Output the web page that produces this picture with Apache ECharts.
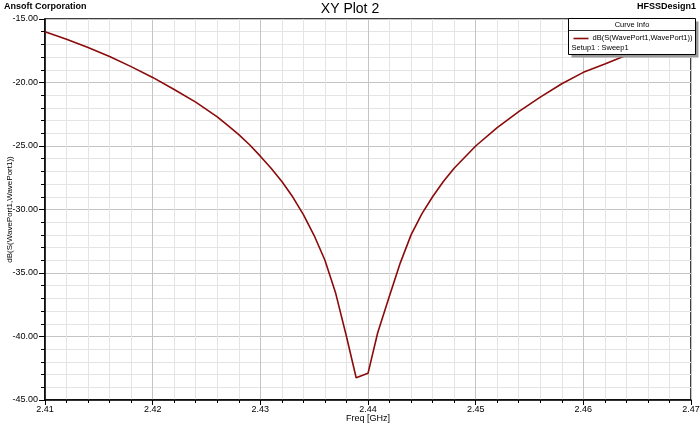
<!DOCTYPE html>
<html><head><meta charset="utf-8">
<script src="https://cdn.jsdelivr.net/npm/echarts@6/dist/echarts.min.js"></script>
<style>html,body{margin:0;padding:0;background:#fff}#c{width:700px;height:425px}</style>
</head><body><div id="c"></div>
<script>
var freqs = [2.410,2.412,2.414,2.416,2.418,2.420,2.422,2.424,2.426,2.427,2.428,2.429,2.430,2.431,2.432,2.433,2.434,2.435,2.436,2.437,2.438,2.4389,2.440,2.4409,2.442,2.443,2.444,2.445,2.446,2.447,2.448,2.450,2.452,2.454,2.456,2.458,2.460,2.462,2.464,2.466,2.468,2.470];
var dbValues = [-16.0,-16.6,-17.25,-17.95,-18.75,-19.6,-20.55,-21.55,-22.7,-23.4,-24.1,-24.9,-25.8,-26.75,-27.8,-29.0,-30.4,-32.05,-34.0,-36.6,-40.0,-43.25,-42.9,-39.7,-36.8,-34.2,-32.0,-30.35,-29.0,-27.8,-26.75,-25.0,-23.55,-22.3,-21.15,-20.1,-19.2,-18.55,-17.85,-17.2,-16.6,-16.0];
var seriesName = 'dB(S(WavePort1,WavePort1))';
var sweepName = 'Setup1 : Sweep1';
var titleText = 'XY Plot 2';
var companyText = 'Ansoft Corporation';
var designText = 'HFSSDesign1';
var xName = 'Freq [GHz]';

var data = freqs.map(function(f,i){return [f, dbValues[i]];});
var font = 'Liberation Sans, Arial, sans-serif';
var chart = echarts.init(document.getElementById('c'));
chart.setOption({
  backgroundColor:'#fff',
  animation:false,
  textStyle:{fontFamily:font},
  grid:{left:45,right:9,top:19,bottom:25,containLabel:false,outerBoundsMode:'none',show:true,borderColor:'#000',borderWidth:1.5,backgroundColor:'#fff'},
  xAxis:{type:'value',min:2.41,max:2.47,interval:0.01,
    name:xName,nameLocation:'middle',nameGap:14,nameMoveOverlap:false,nameTextStyle:{fontSize:9,color:'#000',fontFamily:font},
    axisLine:{show:true,lineStyle:{color:'#000',width:1.5}},
    axisTick:{show:true,inside:false,length:5,lineStyle:{color:'#000'}},
    minorTick:{show:true,splitNumber:5,length:3,lineStyle:{color:'#000'}},
    axisLabel:{fontSize:9,color:'#000',margin:5,formatter:function(v){return v.toFixed(2);}},
    splitLine:{show:true,lineStyle:{color:'#c4c4c4',width:1}},
    minorSplitLine:{show:true,lineStyle:{color:'#e4e4e4',width:1}}
  },
  yAxis:{type:'value',min:-45,max:-15,interval:5,
    name:seriesName,nameLocation:'middle',nameGap:31,nameMoveOverlap:false,nameTextStyle:{fontSize:8,color:'#000',fontFamily:font},
    axisLine:{show:true,lineStyle:{color:'#000',width:1.5}},
    axisTick:{show:true,inside:false,length:6,lineStyle:{color:'#000'}},
    minorTick:{show:true,splitNumber:5,length:4,lineStyle:{color:'#000'}},
    axisLabel:{fontSize:9,color:'#000',margin:7,formatter:function(v){return v.toFixed(2);}},
    splitLine:{show:true,lineStyle:{color:'#c4c4c4',width:1}},
    minorSplitLine:{show:true,lineStyle:{color:'#e4e4e4',width:1}}
  },
  series:[{type:'line',name:seriesName,data:data,showSymbol:false,smooth:false,
    lineStyle:{color:'#8b0a0a',width:1.6},z:2}],
  graphic:[
    {type:'text',left:4,top:2,z:10,style:{text:companyText,font:'bold 9px '+font,fill:'#000'}},
    {type:'text',left:'center',top:2,z:10,style:{text:titleText,font:'14px '+font,fill:'#000'}},
    {type:'text',right:4,top:2,z:10,style:{text:designText,font:'bold 9px '+font,fill:'#000'}},
    {type:'group',left:566,top:18,z:100,children:[
      {type:'rect',shape:{x:3,y:3,width:127,height:36},style:{fill:'#9a9a9a'},z:100},
      {type:'rect',shape:{x:0,y:0,width:127,height:36},style:{fill:'#fff',stroke:'#000',lineWidth:1},z:101},
      {type:'line',shape:{x1:0,y1:12,x2:127,y2:12},style:{stroke:'#000',lineWidth:0.8},z:102},
      {type:'text',x:63.5,y:2,z:103,style:{text:'Curve Info',font:'7.5px '+font,fill:'#000',align:'center'}},
      {type:'line',shape:{x1:5,y1:20,x2:20,y2:20},style:{stroke:'#8b0a0a',lineWidth:1.6},z:103},
      {type:'text',x:24,y:15.5,z:103,style:{text:seriesName,font:'7.5px '+font,fill:'#000'}},
      {type:'text',x:3,y:25,z:103,style:{text:sweepName,font:'7.5px '+font,fill:'#000'}}
    ]}
  ]
});
</script></body></html>
